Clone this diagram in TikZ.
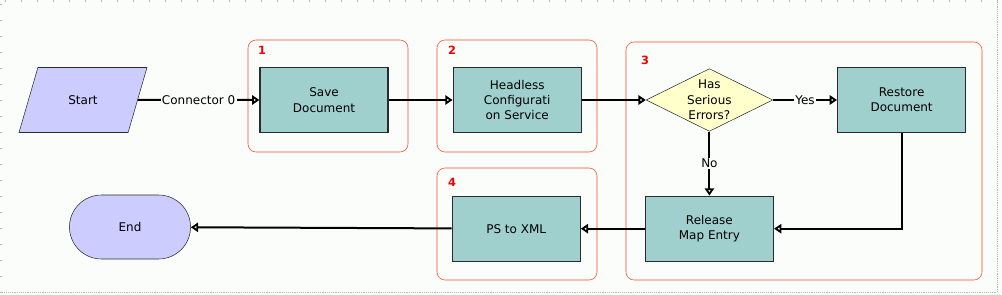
\documentclass[tikz,border=0pt]{standalone}
\usepackage{fontspec}
\setmainfont{DejaVu Sans}
\usepackage{xcolor}
\definecolor{cTask}{HTML}{9FD0CD}
\definecolor{cTerm}{HTML}{CCCCFF}
\definecolor{cDecide}{HTML}{FFFFCC}
\definecolor{cEdge}{HTML}{2B2B2B}
\definecolor{cGroup}{HTML}{FF4A26}
\definecolor{cNum}{HTML}{F00000}
\definecolor{cPage}{HTML}{FBFDFB}
\definecolor{cRule}{HTML}{B8B8B8}
\usetikzlibrary{positioning,arrows.meta,shapes.geometric,shapes.misc}
\tikzset{
  node-task/.style={draw=cEdge,line width=0.9pt,fill=cTask,minimum width=96pt,
    minimum height=48.75pt,align=center,inner sep=1pt,
    font=\fontsize{9}{11.5}\selectfont},
  node-start/.style={draw=cEdge,thin,fill=cTerm,trapezium,
    trapezium left angle=66,trapezium right angle=114,trapezium stretches=true,
    minimum width=96pt,minimum height=48.75pt,font=\fontsize{9}{11}\selectfont},
  node-end/.style={draw=cEdge,thin,fill=cTerm,rounded rectangle,
    minimum width=97.5pt,minimum height=48pt,font=\fontsize{9}{11}\selectfont},
  node-decide/.style={draw=cEdge,thin,fill=cDecide,diamond,aspect=2,
    minimum width=95pt,minimum height=47pt,inner sep=0pt,align=center,
    font=\fontsize{9}{11.5}\selectfont},
  group-box/.style={draw=cGroup,thin,rounded corners=6pt},
  group-num/.style={text=cNum,font=\bfseries\fontsize{8.5}{10}\selectfont},
  arrow/.style={-{Triangle[open,length=5.5pt,width=7pt]},line width=1.5pt,draw=black},
  arrow-label/.style={fill=cPage,inner sep=1pt,font=\fontsize{9}{11}\selectfont},
  page-edge/.style={draw=cRule,densely dotted,thin},
}
\begin{document}
\begin{tikzpicture}[x=0.75pt,y=-0.75pt,node distance=48pt and 48pt]
  \fill[cPage] (0,0) rectangle (1002,295);
  \useasboundingbox (0,0) rectangle (1002,295);
  % page border and ruler ticks
  \draw[page-edge] (997,0) -- (997,292) -- (0,292);
  \foreach \t in {5,21,...,997} \draw[cRule] (\t,0) -- (\t,2);
  \foreach \t in {4,20,...,292} \draw[cRule] (0,\t) -- (2,\t);

  % groups
  \draw[group-box] (248,40) rectangle (408,152);
  \draw[group-box] (437,40) rectangle (597,152);
  \draw[group-box] (626,42) rectangle (982,280);
  \draw[group-box] (437,168) rectangle (597,280);
  \node[group-num] (num1) at (262,50) {1};
  \node[group-num] (num2) at (452,50) {2};
  \node[group-num] (num3) at (645,60) {3};
  \node[group-num] (num4) at (452,182) {4};

  % flow
  \node[node-start] (start) at (83,100) {Start};
  \node[node-task] (save) at (324,100) {Save\\Document};
  \node[node-task,right=of save] (headless) {Headless\\Configurati\\on Service};
  \node[node-decide,right=of headless] (errors) {Has\\Serious\\Errors?};
  \node[node-task,right=of errors] (restore) {Restore\\Document};
  \node[node-task,below=of errors] (release) {Release\\Map Entry};
  \node[node-task,left=of release] (psxml) {PS to XML};
  \node[node-end] (end) at (130,227) {End};

  \draw[arrow] (start) -- node[arrow-label] {Connector 0} (save);
  \draw[arrow] (save) -- (headless);
  \draw[arrow] (headless) -- (errors);
  \draw[arrow] (errors) -- node[arrow-label] {Yes} (restore);
  \draw[arrow] (errors) -- node[arrow-label] {No} (release);
  \draw[arrow] (restore) |- (release);
  \draw[arrow] (release) -- (psxml);
  \draw[arrow] (psxml) -- (end);
\end{tikzpicture}
\end{document}
